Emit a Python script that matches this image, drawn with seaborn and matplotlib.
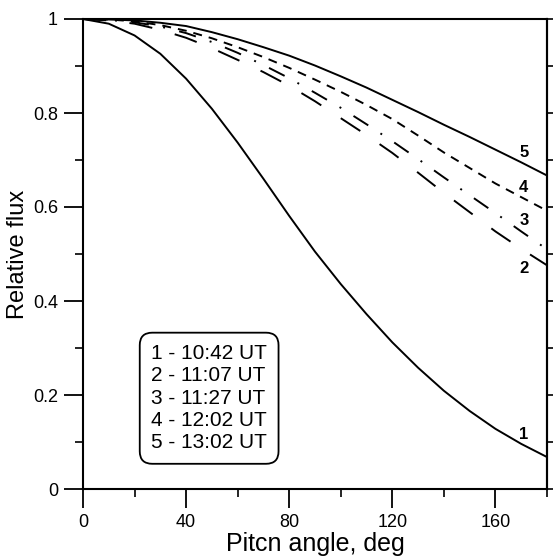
import matplotlib
matplotlib.use("Agg")
import matplotlib.pyplot as plt
from matplotlib.ticker import MultipleLocator, FuncFormatter
import pandas as pd
import seaborn as sns

# values (relative flux vs pitch angle)
angles = list(range(0, 181, 10))
flux_1 = [1.0, 0.99, 0.965, 0.926, 0.873, 0.809, 0.737, 0.66, 0.581, 0.505, 0.436,
          0.372, 0.312, 0.258, 0.209, 0.166, 0.128, 0.096, 0.068]
flux_2 = [1.0, 0.997, 0.99, 0.977, 0.96, 0.938, 0.913, 0.887, 0.858, 0.825, 0.789,
          0.753, 0.715, 0.673, 0.63, 0.589, 0.548, 0.511, 0.476]
flux_3 = [1.0, 0.998, 0.993, 0.984, 0.97, 0.951, 0.928, 0.902, 0.874, 0.843, 0.811,
          0.776, 0.74, 0.702, 0.663, 0.625, 0.587, 0.548, 0.51]
flux_4 = [1.0, 0.999, 0.995, 0.987, 0.975, 0.959, 0.94, 0.919, 0.896, 0.871, 0.845,
          0.817, 0.787, 0.752, 0.716, 0.683, 0.65, 0.621, 0.592]
flux_5 = [1.0, 0.999, 0.997, 0.992, 0.985, 0.972, 0.957, 0.94, 0.922, 0.901, 0.878,
          0.854, 0.828, 0.802, 0.775, 0.749, 0.722, 0.695, 0.667]

curve_names = ["1", "2", "3", "4", "5"]
curve_times = ["10:42 UT", "11:07 UT", "11:27 UT", "12:02 UT", "13:02 UT"]
label_angle = 171
label_flux = [0.115, 0.47, 0.571, 0.641, 0.715]

sns.set_theme(style="ticks", rc={"axes.edgecolor": "black", "text.color": "black",
                                 "xtick.color": "black", "ytick.color": "black",
                                 "axes.labelcolor": "black"})
plt.rcParams["font.family"] = ["Liberation Sans", "DejaVu Sans"]

df = pd.concat([
    pd.DataFrame({"angle": angles, "flux": f, "curve": n})
    for n, f in zip(curve_names, [flux_1, flux_2, flux_3, flux_4, flux_5])
])

dash_map = {"1": "", "2": (12, 12), "3": (9, 7.5, 1, 7.5), "4": (4.6, 3.6), "5": ""}

fig = plt.figure(figsize=(5.54, 5.57), dpi=100)
ax = fig.add_axes([83 / 554, 68 / 557, 464 / 554, 470 / 557])

sns.lineplot(data=df, x="angle", y="flux", style="curve", dashes=dash_map,
             color="black", lw=1.4, legend=False, errorbar=None, ax=ax)

ax.set_xlim(0, 180)
ax.set_ylim(0, 1)
ax.xaxis.set_major_locator(MultipleLocator(40))
ax.xaxis.set_minor_locator(MultipleLocator(20))
ax.yaxis.set_major_locator(MultipleLocator(0.2))
ax.yaxis.set_minor_locator(MultipleLocator(0.1))
ax.yaxis.set_major_formatter(FuncFormatter(lambda v, p: f"{v:g}"))
ax.tick_params(which="major", direction="out", length=14, width=1.3, labelsize=13, pad=4)
ax.tick_params(which="minor", direction="out", length=6, width=1.2)
for s in ax.spines.values():
    s.set_linewidth(1.5)

# small ticks on the right frame
ax2 = ax.twinx()
ax2.set_ylim(0, 1)
ax2.yaxis.set_major_locator(MultipleLocator(0.1))
ax2.tick_params(axis="y", direction="out", length=4, width=1.2, labelright=False)
ax2.spines["right"].set_linewidth(1.5)

for n, v in zip(curve_names, label_flux):
    ax.text(label_angle, v, n, fontsize=12, fontweight="bold", ha="center", va="center")

legend_text = "\n".join(f"{n} - {t}" for n, t in zip(curve_names, curve_times))
ax.text(0.147, 0.078, legend_text, transform=ax.transAxes, ha="left", va="bottom",
        fontsize=15, linespacing=1.22,
        bbox=dict(boxstyle="round,pad=0.55,rounding_size=0.6", fc="white", ec="black", lw=1.3))

ax.set_xlabel("Pitcn angle, deg", fontsize=18, labelpad=1)
ax.set_ylabel("Relative flux", fontsize=17, labelpad=3)

fig.savefig("out.png", dpi=100)
